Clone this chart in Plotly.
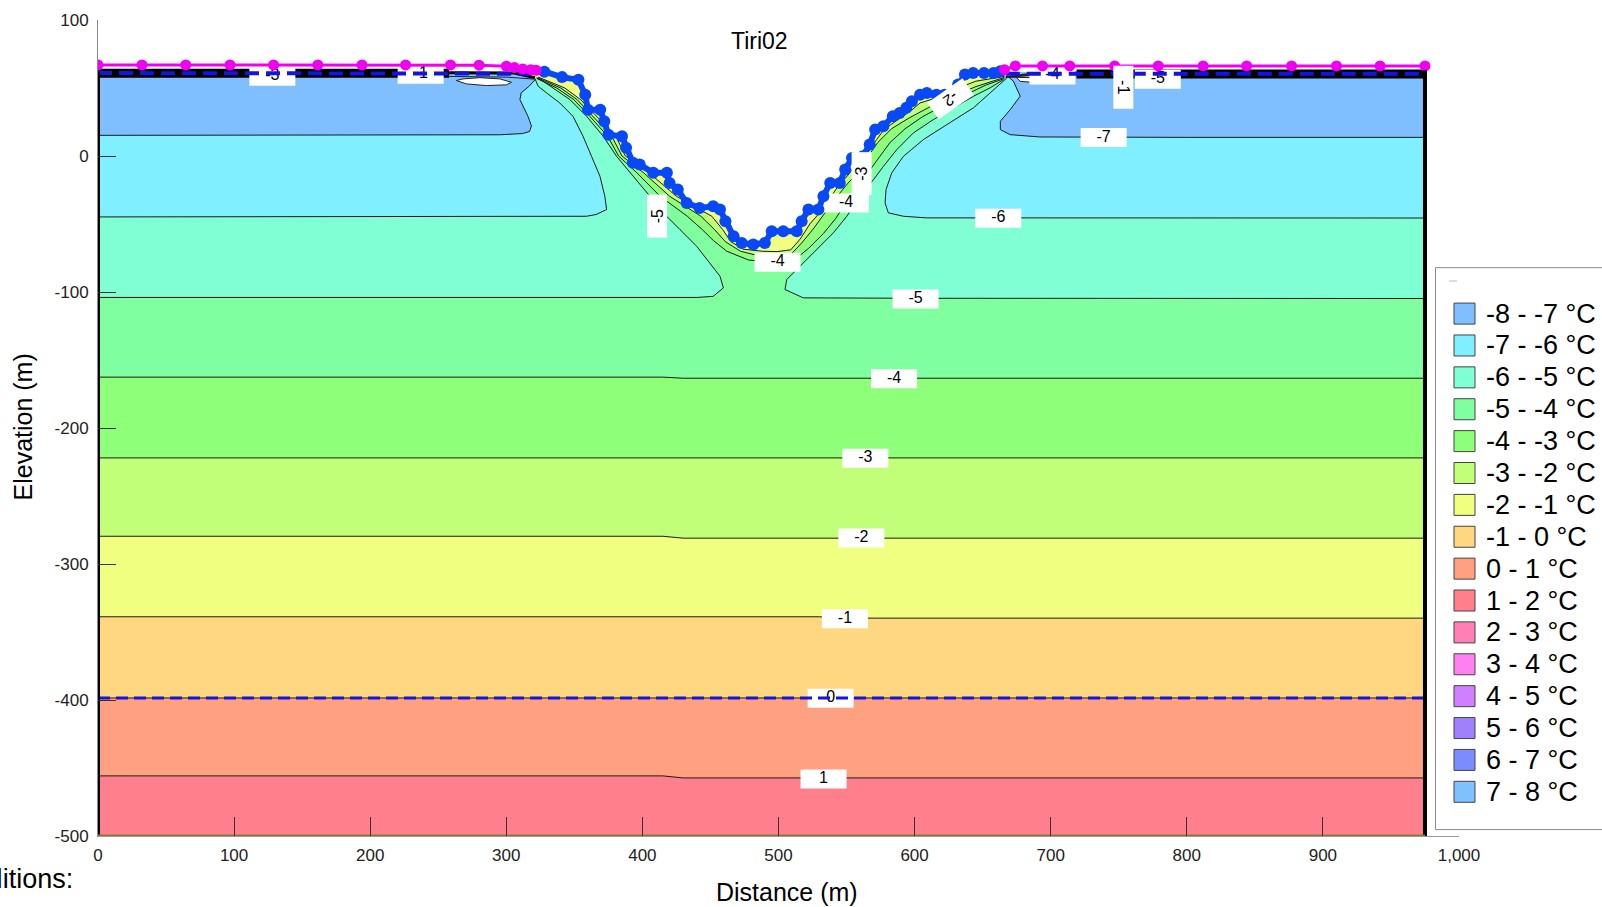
import plotly.graph_objects as go

# ---------------- values ----------------
TITLE = "Tiri02"
X_TICKS = [0, 100, 200, 300, 400, 500, 600, 700, 800, 900, 1000]
X_TICK_TEXT = ["0", "100", "200", "300", "400", "500", "600", "700", "800", "900", "1,000"]
Y_TICKS = [100, 0, -100, -200, -300, -400, -500]
Y_TICK_TEXT = ["100", "0", "-100", "-200", "-300", "-400", "-500"]

LEGEND_LABELS = ["-8 - -7 °C", "-7 - -6 °C", "-6 - -5 °C", "-5 - -4 °C", "-4 - -3 °C",
                 "-3 - -2 °C", "-2 - -1 °C", "-1 - 0 °C", "0 - 1 °C", "1 - 2 °C",
                 "2 - 3 °C", "3 - 4 °C", "4 - 5 °C", "5 - 6 °C", "6 - 7 °C", "7 - 8 °C"]
LEGEND_COLORS = ["#80BFFF", "#80EFFF", "#80FFD4", "#80FFA0", "#8EFF78",
                 "#C2FF78", "#F0FF80", "#FFD780", "#FFA080", "#FF808C",
                 "#FF80B4", "#FF80F0", "#D080FF", "#A080FF", "#7A8CFF", "#80C0FF"]
BAND = dict(zip(range(-8, 8), LEGEND_COLORS))   # band [k, k+1] -> colour

DOMAIN_RIGHT = 975
DOMAIN_BOTTOM = -500
PLATEAU_Z = 61.5
PLATEAU_L_X = [0, 310]
PLATEAU_R_X = [667, 975]

# ground surface nodes in the valley (blue dots)
VALLEY_X = [328, 341, 353, 358, 360, 369, 372, 375, 385, 388, 393, 398, 408, 418, 420, 426,
            432.5, 442, 452, 457, 461, 467, 473, 481.5, 490, 495, 503.5, 513.4, 517, 522,
            529.3, 533, 538, 545, 549, 554, 562, 567, 571, 577, 584, 589, 594, 598, 604,
            609, 616, 622, 628.5, 632, 637, 643, 651, 658, 663]
VALLEY_Z = [62, 58, 56, 45, 34, 34, 25.5, 15.7, 14.5, 6, -5, -6.3, -12.4, -12.4, -19.8, -24.7,
            -34.5, -38.2, -37, -39.4, -48, -59, -64, -65, -64, -55.4, -55.4, -55.4, -48, -39.4,
            -39.4, -29.6, -19.8, -19.8, -10, -1.4, -0.2, 8.4, 19.4, 21.8, 29.2, 31.7, 35.4, 40.2, 45.1,
            46.4, 45.1, 45.1, 46.4, 52.5, 60, 61, 61, 61, 62.3]

# upper boundary nodes (magenta)
MAG_L_X = [0, 32.3, 64.5, 97, 129, 161.5, 194, 226, 259, 280, 300, 306, 312, 318, 322]
MAG_L_Z = [67, 67, 67, 67, 67, 67, 67, 67, 67, 66.8, 66, 65, 64, 63.5, 63]
MAG_R_X = [666, 674, 694, 714, 747, 779, 812, 844, 877, 910, 942, 975]
MAG_R_Z = [63.5, 66.2, 66.2, 66.2, 66.2, 66.2, 66.2, 66.2, 66.2, 66.2, 66.2, 66.2]

# blue dashed lines
DASH_L_X, DASH_L_Z = [0, 322], [61, 60.5]
DASH_R_X, DASH_R_Z = [667, 975], [60.5, 60.5]
ZERO_DASH_X, ZERO_DASH_Z = [0, 975], [-398.5, -398.5]

# bottom boundary segments (yellow)
BOTTOM_SEG = [(4.7, 254.6), (265, 472.6), (483, 708.3), (718.8, 968.7)]

# flat isotherms
ISO_FLAT = {
    1: ([0, 415, 430, 975], [-455.8, -455.8, -457.3, -457.3]),
    0: ([0, 975], [-398.5, -398.5]),
    -1: ([0, 530, 545, 975], [-338.8, -338.8, -339.8, -339.8]),
    -2: ([0, 415, 430, 975], [-279.6, -279.6, -281.0, -281.0]),
    -3: ([0, 975], [-222.0, -222.0]),
    -4: ([0, 415, 430, 975], [-162.6, -162.6, -163.4, -163.4]),
}

# isotherms hugging the valley (left rim -> right rim)
M4_X = [322.5, 337, 349.5, 361.5, 374.5, 382.5, 396, 413, 433, 444, 452, 462, 478, 499,
        511, 522, 533, 542, 549.5, 558, 566, 574, 582, 593, 606, 621, 637, 652, 666]
M4_Z = [57, 50, 41.5, 29, 14.5, 0, -12.4, -29.6, -44.3, -54.1, -62, -70, -76.5, -78.3,
        -77, -68, -57, -46, -34.5, -23, -12, -1, 10, 20, 29, 37, 45, 52, 57]
M3_X = [323, 340, 352, 364, 377.5, 385, 401, 420, 443, 453, 461, 472, 486, 499,
        509, 517, 526, 534, 542, 551, 559.5, 566, 573, 583, 596, 611, 628, 645, 666]
M3_Z = [57.5, 50, 41.5, 29, 14.5, 0, -12.4, -29.6, -44.3, -54.1, -63, -70, -73.5, -74.2,
        -72.5, -64, -53, -42, -31, -20, -11, 0, 10, 20, 28, 36, 44, 51, 57.8]
M2_X = [323.5, 343, 354.5, 366.5, 380.5, 387.5, 405, 425, 451, 459, 465, 474, 488, 499,
        509, 516, 523, 530, 537, 544, 552, 558, 566, 572, 578, 588, 597, 604, 620, 632, 645, 666]
M2_Z = [58, 50, 41.5, 29, 14.5, 0, -12.4, -29.6, -44.3, -54.1, -63, -68.5, -70, -70.3,
        -69, -61, -50, -42, -32, -22, -13, -4, 3, 12, 20, 27, 33, 39, 44, 50, 55, 58.5]

# -5, -6, -7 isotherms: left part (x=0 -> left rim) and right part (right rim -> x=975)
M5_L_X = [0, 300, 440, 452, 459.5, 457, 449.6, 439.9, 427.6, 417.8, 405.5, 390.8, 381, 371.2, 359,
          346.7, 334.4, 327, 322.2]
M5_L_Z = [-104, -104, -104, -103.2, -97, -88.4, -78.6, -66.4, -54.1, -44.3, -29.6, -12.4, -0.2, 14.5,
          29.2, 41.5, 50.1, 55, 57.4]
M5_R_X = [665.3, 655.5, 643.2, 628.5, 613.8, 599.1, 586.9, 577.1, 569.8, 560, 550.2, 540.3, 528.1,
          515.8, 506, 504.8, 518.2, 600, 975]
M5_R_Z = [56.2, 50.1, 43.9, 35.4, 26.8, 17, 4.7, -7.6, -17.4, -29.6, -44.3, -56.5, -68.8, -81.1,
          -90.9, -98.2, -104.3, -104.6, -104.8]
M6_L_X = [0, 300, 359, 366, 373.7, 372.4, 368.8, 362.6, 356.4, 349, 339.3, 329.6, 323.4, 321]
M6_L_Z = [-44.8, -44.6, -44.3, -43, -39.4, -29.6, -14.9, -0.2, 14.5, 29.2, 39, 46.4, 51.3, 57]
M6_R_X = [667.8, 657.9, 643.2, 623.7, 606.5, 591.8, 583.2, 579, 578.3, 580.7, 591.8, 608.9, 975]
M6_R_Z = [57.4, 48.8, 35.4, 23.1, 12.1, -0.2, -12.4, -24.7, -34.5, -41.8, -44.3, -45.5, -45.6]
M7_L_X = [0, 200, 295, 312, 317, 318.5, 316, 310, 311, 317, 321]
M7_L_Z = [15.2, 15.2, 15.6, 16.5, 18, 22, 29, 41.5, 46.5, 51.5, 56]
M7_R_X = [668, 672.6, 677.6, 670.2, 663, 663, 670.2, 692, 800, 975]
M7_R_Z = [59, 55, 44, 34, 25.5, 19.4, 15.7, 14, 13.7, 13.7]

# white lenses under the plateau surface near the rims
LENS_L_X = [263.3, 268.2, 280.5, 295.2, 303.8, 300.1, 285.4, 270.7, 263.3]
LENS_L_Z = [55.5, 56.7, 57.6, 56.7, 54.2, 52.3, 51.8, 53, 55.5]
LENS_R_X = [673.9, 686.5, 705.7, 703.3, 692.3, 677.6, 673.9]
LENS_R_Z = [58.6, 59.1, 56.2, 54.2, 53.7, 54.9, 58.6]

# contour labels: (text, x, z)
LABELS_FLAT = [("-3", 128.1, 58.7), ("-1", 237.1, 60.2), ("-4", 701.3, 59.5), ("-5", 778.7, 56.4),
               ("-7", 738.9, 13.6), ("-6", 661.5, -45.8), ("-5", 600.7, -105.1), ("-4", 584.9, -163.7),
               ("-3", 563.8, -222.3), ("-2", 560.9, -280.9), ("-1", 548.8, -340.2), ("0", 538.3, -398.8),
               ("1", 533.1, -458.1), ("-4", 499.3, -78.1), ("-4", 549.6, -34.5)]
LABELS_ROT = [("-5", 410.6, -44.3, -90), ("-3", 560.9, -12.7, -90), ("-2", 626.2, 42.1, 145),
              ("-1", 753.7, 50.7, 90)]

# ---------------- figure geometry ----------------
W, H = 1602, 907
ML, MR, MT, MB = 98, 143, 20, 71
PW, PH = W - ML - MR, H - MT - MB
X0, X1, Y0, Y1 = 0, 1000, -500, 100
PX_PER_X = PW / (X1 - X0)
PX_PER_Y = PH / (Y1 - Y0)

fig = go.Figure()


def poly(xs, zs, color, outline=None):
    fig.add_trace(go.Scatter(x=xs, y=zs, mode="lines", fill="toself", fillcolor=color,
                             line=dict(width=1 if outline else 0, color=outline or color),
                             hoverinfo="skip", showlegend=False))


def line(xs, zs, color="#1a1a1a", width=1, dash=None):
    fig.add_trace(go.Scatter(x=xs, y=zs, mode="lines",
                             line=dict(color=color, width=width, dash=dash),
                             hoverinfo="skip", showlegend=False))


SURF_X = PLATEAU_L_X + VALLEY_X + PLATEAU_R_X
SURF_Z = [PLATEAU_Z] * 2 + VALLEY_Z + [PLATEAU_Z] * 2


def above_flat(level, valley=None):
    fx, fz = ISO_FLAT[level]
    xs, zs = list(fx), list(fz)
    if valley is None:
        xs += [DOMAIN_RIGHT] + SURF_X[::-1]
        zs += [PLATEAU_Z] + SURF_Z[::-1]
    else:
        vx, vz = valley
        xs += [DOMAIN_RIGHT, PLATEAU_R_X[0]] + vx[::-1] + PLATEAU_L_X[::-1]
        zs += [PLATEAU_Z, PLATEAU_Z] + vz[::-1] + [PLATEAU_Z, PLATEAU_Z]
    return xs, zs


def left_right(lx, lz, rx, rz):
    xs = lx + PLATEAU_L_X[::-1] + [None] + rx + PLATEAU_R_X[::-1]
    zs = lz + [PLATEAU_Z] * 2 + [None] + rz + [PLATEAU_Z] * 2
    return xs, zs


# whole domain (1..2 band)
poly([0, DOMAIN_RIGHT] + SURF_X[::-1], [DOMAIN_BOTTOM, DOMAIN_BOTTOM] + SURF_Z[::-1], BAND[1])
poly(*above_flat(1), BAND[0])
poly(*above_flat(0), BAND[-1])
poly(*above_flat(-1), BAND[-2])
poly(*above_flat(-2, (M2_X, M2_Z)), BAND[-3])
poly(*above_flat(-3, (M3_X, M3_Z)), BAND[-4])
poly(*above_flat(-4, (M4_X, M4_Z)), BAND[-5])
poly(*left_right(M5_L_X, M5_L_Z, M5_R_X, M5_R_Z), BAND[-6])
poly(*left_right(M6_L_X, M6_L_Z, M6_R_X, M6_R_Z), BAND[-7])
poly(*left_right(M7_L_X, M7_L_Z, M7_R_X, M7_R_Z), BAND[-8])
poly(LENS_L_X, LENS_L_Z, "white", "#222")
poly(LENS_R_X, LENS_R_Z, "white", "#222")

# isotherm lines
for lvl, (fx, fz) in ISO_FLAT.items():
    line(fx, fz)
for xs, zs in [(M2_X, M2_Z), (M3_X, M3_Z), (M4_X, M4_Z), (M5_L_X, M5_L_Z), (M5_R_X, M5_R_Z),
               (M6_L_X, M6_L_Z), (M6_R_X, M6_R_Z), (M7_L_X, M7_L_Z), (M7_R_X, M7_R_Z)]:
    line(xs, zs)

# dense near-surface isotherms on the plateaus (black band)
line([0, 258], [60.8, 60.8], "black", 9)
line([258, 306, 321], [61.3, 61.0, 57.5], "black", 3)
line([258, 300, 321], [58.5, 58.0, 56.5], "#222", 1)
line([719, 975], [60.3, 60.3], "black", 9)
line([667, 690, 719], [58.0, 61.0, 61.5], "#222", 2)
line([667, 690, 719], [58.0, 59.5, 59.0], "#222", 1)
line([667, 690], [58.0, 57.5], "#222", 1)

# contour labels (flat ones as boxes + text so that the dashed lines can cross them)
bw, bh = 46 / PX_PER_X / 2, 19 / PX_PER_Y / 2
bx, bz = [], []
for t, x, z in LABELS_FLAT:
    bx += [x - bw, x + bw, x + bw, x - bw, x - bw, None]
    bz += [z - bh, z - bh, z + bh, z + bh, z - bh, None]
fig.add_trace(go.Scatter(x=bx, y=bz, mode="lines", fill="toself", fillcolor="white",
                         line=dict(width=0), hoverinfo="skip", showlegend=False))
fig.add_trace(go.Scatter(x=[l[1] for l in LABELS_FLAT], y=[l[2] for l in LABELS_FLAT],
                         text=[l[0] for l in LABELS_FLAT], mode="text",
                         textfont=dict(size=16, color="black", family="Liberation Sans, Arial"),
                         hoverinfo="skip", showlegend=False))

# blue dashed lines
line(DASH_L_X, DASH_L_Z, "#1414DC", 4, "14px,7px")
line(DASH_R_X, DASH_R_Z, "#1414DC", 4, "14px,7px")
line(ZERO_DASH_X, ZERO_DASH_Z, "#1414DC", 3, "12px,6px")

# valley ground nodes
fig.add_trace(go.Scatter(x=VALLEY_X, y=VALLEY_Z, mode="lines+markers",
                         line=dict(color="#0848F5", width=6),
                         marker=dict(color="#0848F5", size=12),
                         hoverinfo="skip", showlegend=False))
# upper boundary nodes
for mx, mz in [(MAG_L_X, MAG_L_Z), (MAG_R_X, MAG_R_Z)]:
    fig.add_trace(go.Scatter(x=mx, y=mz, mode="lines+markers",
                             line=dict(color="#F000F0", width=3),
                             marker=dict(color="#F000F0", size=11),
                             hoverinfo="skip", showlegend=False))

# domain boundaries
line([0, 0], [DOMAIN_BOTTOM, 62], "black", 4)
line([DOMAIN_RIGHT, DOMAIN_RIGHT], [DOMAIN_BOTTOM, 63], "black", 4)
line([0, DOMAIN_RIGHT], [DOMAIN_BOTTOM, DOMAIN_BOTTOM], "#8A7A3A", 3)
sx, sz = [], []
for a, b in BOTTOM_SEG:
    sx += [a, b, None]
    sz += [-502.8, -502.8, None]
line(sx, sz, "#EEF07A", 3)

# rotated contour labels
ann = []
for t, x, z, ang in LABELS_ROT:
    ann.append(dict(x=x, y=z, xref="x", yref="y", text=t, showarrow=False, textangle=ang,
                    bgcolor="white", width=40, height=17, xanchor="center", yanchor="middle",
                    font=dict(size=16, color="black", family="Liberation Sans, Arial")))


def px2paper(px, py):
    return (px - ML) / PW, (H - MB - py) / PH


def text_at(px, py, text, size, angle=0, xanchor="center"):
    tx, ty = px2paper(px, py)
    ann.append(dict(x=tx, y=ty, xref="paper", yref="paper", text=text, showarrow=False,
                    textangle=angle, xanchor=xanchor, yanchor="middle",
                    font=dict(size=size, color="black")))


# titles
text_at(759, 41, TITLE, 23)
text_at(787, 892, "Distance (m)", 25)
text_at(22.5, 427, "Elevation (m)", 25, angle=-90)
text_at(74.5, 879, "Boundary Conditions:", 27, xanchor="right")

# legend (drawn by hand)
shapes = []
lx0, ly0 = px2paper(1435.5, 267.7)
lx1, ly1 = px2paper(1640, 829.6)
shapes.append(dict(type="rect", xref="paper", yref="paper", x0=lx0, y0=ly1, x1=lx1, y1=ly0,
                   line=dict(color="#888", width=1), fillcolor="white", layer="above"))
dx0, dy = px2paper(1449, 281)
dx1, _ = px2paper(1457, 281)
shapes.append(dict(type="line", xref="paper", yref="paper", x0=dx0, x1=dx1, y0=dy, y1=dy,
                   line=dict(color="#bbb", width=1), layer="above"))
for i, (lab, col) in enumerate(zip(LEGEND_LABELS, LEGEND_COLORS)):
    cy = 313.6 + i * 31.88
    a0, b0 = px2paper(1454, cy - 10.5)
    a1, b1 = px2paper(1475, cy + 10.5)
    shapes.append(dict(type="rect", xref="paper", yref="paper", x0=a0, x1=a1, y0=b1, y1=b0,
                       fillcolor=col, line=dict(color="#444", width=1), layer="above"))
    text_at(1483.5, cy, lab, 27, xanchor="left")

fig.update_layout(
    width=W, height=H, margin=dict(l=ML, r=MR, t=MT, b=MB),
    paper_bgcolor="white", plot_bgcolor="white",
    font=dict(family="Liberation Sans, Arial, sans-serif", color="black"),
    showlegend=False, annotations=ann, shapes=shapes,
    xaxis=dict(range=[X0, X1], tickvals=X_TICKS, ticktext=X_TICK_TEXT, ticks="inside",
               ticklen=19, tickwidth=1, tickcolor="#333", showgrid=False, zeroline=False,
               showline=True, linecolor="#999", linewidth=1, ticklabelstandoff=4,
               tickfont=dict(size=17, color="#222")),
    yaxis=dict(range=[Y0, Y1], tickvals=Y_TICKS, ticktext=Y_TICK_TEXT, ticks="inside",
               ticklen=18, tickwidth=1, tickcolor="#333", showgrid=False, zeroline=False,
               showline=True, linecolor="#888", linewidth=1, ticklabelstandoff=5,
               tickfont=dict(size=17, color="#222")),
)

fig.write_html("out.html")
